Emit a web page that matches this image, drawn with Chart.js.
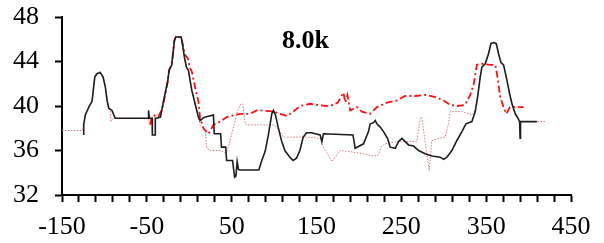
<!DOCTYPE html>
<html>
<head>
<meta charset="utf-8">
<script src="https://cdn.jsdelivr.net/npm/chart.js@4"></script>
<style>
  html, body { margin: 0; padding: 0; background: #fff; }
  #wrap { width: 604px; height: 243px; }
</style>
</head>
<body>
<div id="wrap"><canvas id="chart"></canvas></div>
<script>
const label = '8.0k';
const labelAt = [137, 45.8];
const xTicks = [-150, -50, 50, 150, 250, 350, 450];
const yTicks = [32, 36, 40, 44, 48];

// solid black trace
const solidX = [-124.4, -124.4, -122.5, -117.8, -114.6, -111.4, -108.7, -104.8, -101.6, -98.9, -96.9, -94.9, -91, -89, -87.1,
  -48.5, -48, -47, -43.8, -43.5, -40.2, -40, -38.3, -34, -32.4, -30.5, -25.4, -23.8, -20.6, -17.5, -15.9, -9.6, -8.1, -5.7, -3.4, -1,
  3, 6.9, 10.8, 12.8, 18, 28.5, 29.5, 37, 38, 43, 44, 51, 53.5, 55, 56.5, 58, 60, 82, 85.5, 89.4, 93.3, 97.3, 99.2, 101.6, 104.8,
  108.7, 112.7, 118.6, 122.5, 126.4, 130.4, 134.3, 138.2, 144.1, 154.3, 156.3, 158.2, 193, 195.6, 205.4, 211.3, 213.3, 217.2, 219.2,
  221.2, 225.1, 229, 233.7, 236.9, 242.8, 246.7, 250.7, 254.6, 258.5, 264.4, 270.3, 278.2, 286, 295.9, 299.8, 303.7, 309.6, 315.5,
  321.4, 326.2, 333.2, 337.1, 339.9, 343, 345, 348.9, 352.8, 355.6, 358.7, 361.9, 364.6, 367.4, 370.5, 374.5, 377.6, 380.4, 384.3,
  387.5, 389.4, 390, 390.5, 394.1, 409.8];
const solidY = [37.4, 38.3, 39.2, 40.0, 40.4, 42.6, 42.9, 43.0, 42.6, 41.7, 40.5, 39.8, 39.6, 39.2, 38.9,
  38.9, 39.6, 38.9, 38.9, 37.4, 37.4, 38.9, 38.9, 39.0, 39.6, 40.4, 42.2, 43.2, 43.7, 45.9, 46.2, 46.2, 45.6, 44.4, 43.5, 43.2,
  41.4, 40.2, 39.0, 38.7, 39.0, 39.2, 37.5, 37.5, 36.3, 36.3, 35.1, 35.1, 33.6, 33.7, 35.0, 34.3, 34.25, 34.25, 35.1, 35.9, 37.4, 39.3, 39.6, 39.2, 38.1,
  36.9, 36.0, 35.4, 35.1, 35.3, 36.0, 37.2, 37.6, 37.6, 37.4, 36.8, 37.5, 37.4, 36.2, 36.6, 37.7, 38.4, 38.5, 38.7,
  38.4, 38.1, 37.7, 37.1, 36.3, 36.2, 36.8, 37.1, 36.8, 36.5, 36.4, 36.0, 35.7, 35.5, 35.4, 35.2, 35.4, 36.0, 36.9,
  37.7, 38.4, 38.6, 39.5, 40.8, 42.6, 43.5, 43.8, 44.7, 45.6, 45.7, 45.6, 44.7, 43.9, 43.7, 42.3, 41.1, 40.2, 39.3,
  38.9, 38.6, 37.1, 38.6, 38.6, 38.6];

// red dash-dot trace
const dashX = [-46, -44, -40, -36, -32, -30, -25.4, -23.8, -20.6, -17.5, -15.9, -9.6, -8, -5, -1.8, 1, 3, 6.9, 10.8, 12.8,
  16.7, 22.6, 28.5, 36.4, 44.3, 54.1, 60, 71.7, 79.6, 85.1, 99.2, 107.1, 115, 122.8, 130.7, 142.5, 150.4, 162.2, 170, 175,
  178, 181.8, 184, 186.5, 189.7, 197.6, 203.5, 213.3, 221.2, 233, 244.8, 254.6, 266.4, 278.2, 290, 299.8, 307.7, 315.5,
  325.3, 331.2, 335.1, 339.1, 345, 354.8, 360.7, 362.7, 364.6, 366.6, 370.5, 373.7, 378, 394];
const dashY = [38.3, 39.0, 39.2, 39.1, 39.7, 40.4, 42.2, 43.2, 43.8, 45.9, 46.2, 46.2, 45.7, 44.6, 44.3, 43.4, 43.1, 41.7, 40.4, 38.9,
  38.0, 37.5, 38.3, 38.6, 39.0, 39.2, 39.3, 39.3, 39.6, 39.6, 39.5, 39.3, 39.1, 39.5, 40.0, 40.2, 40.1, 40.0, 40.1, 40.3,
  40.7, 41.2, 40.3, 41.0, 39.6, 39.9, 39.5, 39.3, 39.9, 40.3, 40.5, 40.9, 40.9, 41.0, 40.8, 40.5, 40.1, 40.0,
  40.1, 41.0, 41.9, 43.7, 43.8, 43.7, 43.7, 42.9, 41.9, 40.8, 39.9, 39.3, 39.9, 39.9];

// thin dotted trace
const dotX = [-150, -125.5, -124, -122.5, -117.8, -114.6, -111.4, -108.7, -104.8, -101.6, -98.9, -96.9, -94.5, -93, -92.5, -90,
  -48, -47, -45, -40, -32.4, -30.5, -25.4, -23.8, -20.6, -17.5, -15.9, -9.6, -8.1, -5.7, -3.4, -1, 3, 6.9, 10.8, 12.8,
  18.7, 20.6, 24.6, 36.4, 42.3, 44.3, 48.2, 52.1, 56.1, 60, 63.1, 65.9, 67.8, 93.3, 100, 107, 111, 138.5, 154.3, 158.2,
  162.2, 168.1, 172, 177.9, 189.7, 205.4, 217.2, 223.1, 225.9, 231, 244.8, 258.5, 268.3, 272.3, 274.2, 276.2, 280.1,
  282.9, 285.2, 286, 299.8, 301.7, 305.6, 307.7, 321.4, 333.2, 337.1, 339.9, 343, 345, 348.9, 352.8, 355.6, 358.7,
  361.9, 364.6, 367.4, 370.5, 374.5, 377.6, 380.4, 384.3, 387.5, 389.4, 421];
const dotY = [37.8, 37.8, 38.6, 39.3, 40.1, 40.5, 42.7, 43.0, 43.1, 42.7, 41.8, 40.6, 39.8, 39.6, 38.6, 38.9,
  38.9, 38.4, 39.0, 39.0, 39.6, 40.4, 42.2, 43.2, 43.7, 45.9, 46.2, 46.2, 45.6, 44.4, 43.5, 43.2, 41.4, 40.2, 39.0, 38.3,
  37.8, 36.2, 36.0, 36.0, 35.8, 35.9, 36.9, 38.1, 39.3, 40.1, 40.2, 38.4, 38.3, 38.3, 38.3, 37.7, 37.2, 37.2, 37.1, 36.3,
  35.8, 35.0, 35.4, 36.0, 35.9, 35.7, 35.5, 35.6, 36.3, 36.6, 36.8, 36.8, 36.8, 38.9, 39.0, 37.8, 35.7,
  34.2, 36.3, 36.9, 37.2, 37.2, 38.4, 39.5, 39.5, 39.2, 39.6, 40.9, 42.7, 43.6, 43.9, 44.8, 45.6, 45.7,
  45.6, 44.8, 44.0, 43.8, 42.4, 41.2, 40.3, 39.4, 38.9, 38.6, 38.6];

const pts = (xs, ys) => xs.map((x, i) => ({ x, y: ys[i] }));

const FONT = { family: '"Liberation Serif", "Times New Roman", serif', size: 26 };

const labelPlugin = {
  id: 'panelLabel',
  afterDatasetsDraw(chart) {
    const { ctx, scales: { x, y } } = chart;
    ctx.save();
    ctx.font = 'bold 26px "Liberation Serif", serif';
    ctx.fillStyle = '#000';
    ctx.textAlign = 'center';
    ctx.textBaseline = 'middle';
    ctx.fillText(label, x.getPixelForValue(labelAt[0]), y.getPixelForValue(labelAt[1]));
    ctx.restore();
  }
};

new Chart(document.getElementById('chart'), {
  type: 'line',
  data: {
    datasets: [
      {
        data: pts(solidX, solidY),
        borderColor: '#1e1e1e',
        borderWidth: 1.6,
        order: 0
      },
      {
        data: pts(dashX, dashY),
        borderColor: '#ff1010',
        borderWidth: 1.8,
        borderDash: [7, 3, 2, 3],
        order: 1
      },
      {
        data: pts(dotX, dotY),
        borderColor: '#d27c7c',
        borderWidth: 1,
        borderDash: [1.5, 1.5],
        order: 2
      }
    ]
  },
  options: {
    responsive: true,
    maintainAspectRatio: false,
    animation: false,
    elements: { point: { radius: 0 }, line: { tension: 0, fill: false } },
    layout: { padding: { top: 17, right: 33, left: 0, bottom: 0 } },
    plugins: { legend: { display: false }, tooltip: { enabled: false } },
    scales: {
      x: {
        type: 'linear',
        min: xTicks[0], max: xTicks[xTicks.length - 1],
        border: { color: '#000', width: 2 },
        grid: { drawOnChartArea: false, color: '#000', tickLength: 7, tickWidth: 2 },
        ticks: {
          stepSize: 20, autoSkip: false, maxRotation: 0, color: '#000', font: FONT, padding: 10,
          callback: (v) => xTicks.includes(v) ? v : ''
        },
        afterFit: (s) => { s.height = 48; }
      },
      y: {
        min: yTicks[0], max: yTicks[yTicks.length - 1],
        border: { color: '#000', width: 2 },
        grid: { drawOnChartArea: false, color: '#000', tickLength: 7, tickWidth: 2 },
        ticks: {
          stepSize: 4, color: '#000', font: FONT, padding: 16,
          callback: (v) => yTicks.includes(v) ? v : ''
        },
        afterFit: (s) => { s.width = 62; s.paddingTop = 0; s.paddingBottom = 0; }
      }
    }
  },
  plugins: [labelPlugin]
});
</script>
</body>
</html>
